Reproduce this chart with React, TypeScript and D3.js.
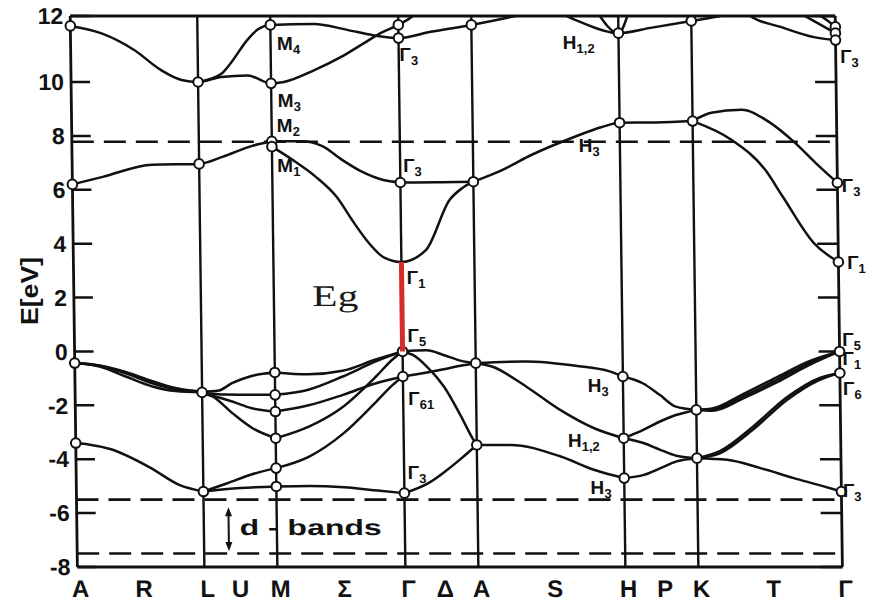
import React from 'react';
import * as d3 from 'd3';

type Pt = [number, number];

// Path coordinate s: integer values are the symmetry points A L M Γ A H K Γ
const symmetryIndex = [0, 1, 2, 3, 4, 5, 6, 7];
const pathLabels: [string, number][] = [
  ['A', 0], ['R', 0.5], ['L', 1], ['U', 1.45], ['M', 2], ['Σ', 2.5], ['Γ', 3], ['Δ', 3.5],
  ['A', 4], ['S', 4.5], ['H', 5], ['P', 5.5], ['K', 6], ['T', 6.5], ['Γ', 7],
];
const energyTicks = [12, 10, 8, 6, 4, 2, 0, -2, -4, -6, -8];
const dashedLevels = [7.78, -5.5, -7.5];

// Conduction bands (s, E in eV)
const conductionBands: Pt[][] = [
  [[0, 6.2], [0.24, 6.48], [0.63, 6.93], [1, 6.96], [1.32, 7.22], [1.73, 7.63], [2, 7.8]],
  [[2, 7.8], [2.23, 7.8], [2.39, 7.63], [2.55, 7.1], [2.7, 6.67], [2.86, 6.37], [3, 6.27]],
  [[3, 6.27], [3.5, 6.28], [4, 6.3]],
  [[2, 7.6], [2.16, 7.11], [2.34, 6.48], [2.5, 5.74], [2.63, 4.8], [2.74, 4.07], [2.87, 3.47], [3, 3.32],
    [3.34, 3.77], [3.67, 5.62], [3.85, 6.07], [4, 6.3]],
  [[4, 6.3], [4.2, 6.74], [4.4, 7.3], [4.69, 7.96], [4.88, 8.33], [5, 8.49], [5.5, 8.5], [6, 8.55]],
  [[6, 8.55], [6.13, 8.86], [6.34, 8.97], [6.53, 8.52], [6.71, 7.74], [6.85, 7.0], [7, 6.26]],
  [[6, 8.55], [6.27, 7.85], [6.5, 6.74], [6.62, 5.74], [6.83, 4.03], [7, 3.32]],
];

// Higher bands, running out of the frame above 12 eV
const upperBands: Pt[][] = [
  [[0, 11.7], [0.24, 11.48], [0.5, 10.97], [0.71, 10.36], [0.87, 10.06], [1, 10.0], [1.32, 10.15],
    [1.68, 10.2], [2, 9.95], [2.1, 10.0], [2.34, 10.36], [2.55, 10.76], [2.73, 11.18], [2.86, 11.48],
    [3, 11.73], [3.2, 12.0], [3.3, 12.2]],
  [[1, 10.0], [1.32, 10.25], [1.45, 10.57], [1.68, 11.27], [1.82, 11.58], [2, 11.73], [2.34, 11.76],
    [2.6, 11.58], [2.8, 11.42], [3, 11.33], [3.44, 11.52], [4, 11.73], [4.3, 12.0], [4.4, 12.1]],
  [[4.6, 12.1], [4.74, 11.82], [5, 11.48], [5.44, 11.64], [6, 11.85], [6.2, 12.0], [6.3, 12.1]],
  [[4.86, 12.1], [5, 11.48], [5.14, 12.1]],
  [[6.38, 12.1], [6.41, 12.0], [6.62, 11.67], [6.85, 11.36], [7, 11.27]],
  [[6.75, 12.1], [6.85, 11.85], [7, 11.48]],
  [[6.88, 12.05], [6.95, 11.85], [7, 11.67]],
];

// Valence bands
const valenceBands: Pt[][] = [
  // A – L
  [[0, -0.43], [0.195, -0.53], [0.4, -0.81], [0.61, -1.18], [0.79, -1.4], [1, -1.5]],
  [[0, -0.43], [0.195, -0.56], [0.4, -0.93], [0.61, -1.3], [0.79, -1.47], [1, -1.52]],
  [[0, -0.43], [0.195, -0.52], [0.4, -0.76], [0.61, -1.1], [0.79, -1.36], [1, -1.5]],
  [[0, -3.4], [0.1, -3.45], [0.27, -3.62], [0.58, -4.3], [0.81, -4.95], [1, -5.2]],
  // L – M
  [[1, -1.5], [1.23, -1.45], [1.41, -1.18], [1.68, -0.91], [2, -0.78]],
  [[1, -1.52], [1.32, -1.6], [1.68, -1.61], [2, -1.61]],
  [[1, -1.55], [1.09, -1.61], [1.41, -1.86], [1.68, -2.11], [2, -2.23]],
  [[1, -1.55], [1.14, -1.67], [1.41, -2.29], [1.68, -2.84], [2, -3.22]],
  [[1, -5.2], [1.32, -4.9], [1.68, -4.55], [2, -4.33]],
  [[1, -5.2], [1.5, -5.07], [2, -5.01]],
  // M – Γ
  [[2, -0.78], [2.26, -0.85], [2.53, -0.72], [2.79, -0.3], [3, 0]],
  [[2, -1.61], [2.26, -1.42], [2.53, -0.93], [2.79, -0.37], [3, 0]],
  [[2, -2.23], [2.26, -2.0], [2.53, -1.61], [2.79, -1.18], [3, -0.93]],
  [[2, -3.22], [2.26, -2.79], [2.53, -2.05], [2.79, -0.93], [2.92, -0.3], [3, 0]],
  [[2, -4.33], [2.26, -3.9], [2.53, -3.04], [2.79, -1.86], [2.92, -1.24], [3, -0.93]],
  [[2, -5.01], [2.26, -4.99], [2.53, -5.04], [2.79, -5.16], [3, -5.26]],
  // Γ – A
  [[3, 0], [3.33, 0.04], [3.56, -0.13], [3.79, -0.34], [4, -0.435]],
  [[3, 0], [3.14, -0.13], [3.33, -0.56], [3.56, -1.3], [3.79, -2.41], [3.93, -3.16], [4, -3.47]],
  [[3, -0.93], [3.33, -0.78], [3.56, -0.66], [3.79, -0.53], [4, -0.435]],
  [[3, -5.26], [3.33, -4.89], [3.56, -4.46], [3.79, -3.96], [4, -3.47]],
  // A – H
  [[4, -0.435], [4.34, -0.37], [4.68, -0.53], [4.91, -0.74], [5, -0.93]],
  [[4, -0.435], [4.11, -0.56], [4.34, -1.3], [4.57, -2.17], [4.8, -2.85], [5, -3.22]],
  [[4, -3.47], [4.23, -3.47], [4.57, -3.9], [4.8, -4.4], [5, -4.7]],
  // H – K
  [[5, -0.93], [5.27, -1.18], [5.5, -1.61], [5.72, -2.05], [6, -2.17]],
  [[5, -3.22], [5.27, -2.91], [5.5, -2.6], [5.72, -2.36], [6, -2.17]],
  [[5, -3.22], [5.27, -3.4], [5.5, -3.65], [5.72, -3.87], [6, -3.96]],
  [[5, -4.7], [5.27, -4.58], [5.5, -4.33], [5.72, -4.08], [6, -3.96]],
  // K – Γ
  [[6, -2.17], [6.11, -2.15], [6.32, -1.68], [6.56, -1.06], [6.79, -0.43], [7, 0]],
  [[6, -2.17], [6.11, -2.12], [6.32, -1.6], [6.56, -0.96], [6.79, -0.36], [7, 0]],
  [[6, -2.17], [6.11, -2.2], [6.32, -1.76], [6.56, -1.15], [6.79, -0.5], [7, 0]],
  [[6, -3.96], [6.16, -3.78], [6.39, -2.91], [6.63, -1.8], [6.86, -1.05], [7, -0.8]],
  [[6, -3.96], [6.16, -3.7], [6.39, -2.8], [6.63, -1.7], [6.86, -0.98], [7, -0.8]],
  [[6, -3.96], [6.21, -4.02], [6.44, -4.33], [6.67, -4.7], [6.86, -4.98], [7, -5.2]],
];

// Marked states at the symmetry points
const nodes: Pt[] = [
  [0, 11.7], [0, 6.2], [0, -0.43], [0, -3.4],
  [1, 10.0], [1, 6.96], [1, -1.52], [1, -5.2],
  [2, 11.73], [2, 9.95], [2, 7.8], [2, 7.6], [2, -0.78], [2, -1.61], [2, -2.23], [2, -3.22], [2, -4.33], [2, -5.01],
  [3, 11.73], [3, 11.33], [3, 6.27], [3, 0], [3, -0.93], [3, -5.26],
  [4, 11.73], [4, 6.3], [4, -0.435], [4, -3.47],
  [5, 11.48], [5, 8.49], [5, -0.93], [5, -3.22], [5, -4.7],
  [6, 11.85], [6, 8.55], [6, -2.17], [6, -3.96],
  [7, 11.67], [7, 11.48], [7, 11.27], [7, 6.26], [7, 3.32], [7, 0], [7, -0.8], [7, -5.2],
];

// Irreducible representation labels: [letter, subscript, s, E]
const stateLabels: [string, string, number, number][] = [
  ['M', '4', 2.05, 10.88], ['M', '3', 2.05, 8.96], ['M', '2', 2.04, 8.03], ['M', '1', 2.04, 6.55],
  ['Γ', '3', 3.01, 10.55], ['Γ', '3', 3.04, 6.55], ['Γ', '1', 3.07, 2.39], ['Γ', '5', 3.07, 0.24],
  ['Γ', '61', 3.07, -2.09], ['Γ', '3', 3.05, -4.85],
  ['H', '1,2', 4.62, 10.91], ['H', '3', 4.72, 7.29], ['H', '3', 4.76, -1.62], ['H', '1,2', 4.62, -3.66],
  ['H', '3', 4.77, -5.4],
  ['Γ', '3', 7.03, 10.48], ['Γ', '3', 7.03, 5.81], ['Γ', '1', 7.06, 2.95], ['Γ', '5', 7.02, 0.1],
  ['Γ', '1', 7.02, -0.61], ['Γ', '6', 7.02, -1.73], ['Γ', '3', 7.01, -5.52],
];

// Band gap at Γ: Γ1 (conduction minimum) down to Γ5 (valence maximum)
const gapEnds: Pt[] = [[3, 3.32], [3, 0]];
const gapLabel: Pt = [2.3, 1.69];
const dBandText: Pt = [1.49, -6.82];
const dBandArrow: Pt[] = [[1.34, -5.78], [1.34, -7.41]];

const W = 873;
const H = 601;
const FONT = "'Liberation Sans', Arial, Helvetica, sans-serif";

export default function App() {
  const x = d3.scaleLinear().domain(symmetryIndex).range([70, 197, 270, 398, 471, 618, 691, 835]);
  const y = d3.scaleLinear().domain([-8, 10, 12]).range([567, 82, 16]);
  const line = d3
    .line<Pt>()
    .x((d) => x(d[0]))
    .y((d) => y(d[1]))
    .curve(d3.curveMonotoneX);

  const x0 = x(0);
  const x1 = x(7);
  const yTop = y(12);
  const yBot = y(-8);
  const allBands = [...upperBands, ...conductionBands, ...valenceBands];

  const ax = x(dBandArrow[0][0]);
  const ay0 = y(dBandArrow[0][1]);
  const ay1 = y(dBandArrow[1][1]);

  return (
    <svg
      width={W}
      height={H}
      viewBox={`0 0 ${W} ${H}`}
      style={{ position: 'absolute', left: 0, top: 0, background: '#fff' }}
    >
      <defs>
        <clipPath id="plot-area">
          <rect x={x0} y={yTop} width={x1 - x0} height={yBot - yTop} />
        </clipPath>
      </defs>
      <rect width={W} height={H} fill="#fff" />

      <text
        transform="translate(38,291) rotate(-90)"
        textAnchor="middle"
        fontFamily={FONT}
        fontWeight="bold"
        fontSize={24}
        textLength={68}
        lengthAdjust="spacingAndGlyphs"
        fill="#111"
      >
        E[eV]
      </text>

      <g transform="skewX(0.745)">
        {/* frame and symmetry lines */}
        <line x1={x0} x2={x1} y1={yTop} y2={yTop} stroke="#111" strokeWidth={2.8} />
        <line x1={x0} x2={x1} y1={yBot} y2={yBot} stroke="#111" strokeWidth={2.8} />
        {symmetryIndex.map((s) => (
          <line
            key={`v${s}`}
            x1={x(s)}
            x2={x(s)}
            y1={yTop}
            y2={yBot}
            stroke="#111"
            strokeWidth={s === 0 || s === 7 ? 2.8 : 2.4}
          />
        ))}

        {/* energy ticks on both sides */}
        {energyTicks.map((e) => (
          <g key={`t${e}`}>
            <line x1={x0} x2={x0 + 19} y1={y(e)} y2={y(e)} stroke="#111" strokeWidth={2.5} />
            <line x1={x1 - 21} x2={x1} y1={y(e)} y2={y(e)} stroke="#111" strokeWidth={2.5} />
            <text
              x={x0 - 7}
              y={y(e)}
              dy="0.36em"
              textAnchor="end"
              fontFamily={FONT}
              fontWeight="bold"
              fontSize={23}
              fill="#111"
            >
              {e < 0 ? `-${Math.abs(e)}` : e}
            </text>
          </g>
        ))}

        {/* reference levels */}
        {dashedLevels.map((e) => (
          <line
            key={`d${e}`}
            x1={x0}
            x2={x1}
            y1={y(e)}
            y2={y(e)}
            stroke="#111"
            strokeWidth={2.6}
            strokeDasharray="22 10"
          />
        ))}

        {/* bands */}
        <g clipPath="url(#plot-area)">
          {allBands.map((b, i) => (
            <path key={`b${i}`} d={line(b) ?? ''} fill="none" stroke="#111" strokeWidth={2.5} />
          ))}
        </g>

        {nodes.map(([s, e], i) => (
          <circle key={`n${i}`} cx={x(s)} cy={y(e)} r={4.8} fill="#fff" stroke="#111" strokeWidth={2} />
        ))}

        {/* band gap */}
        <line
          x1={x(gapEnds[0][0])}
          x2={x(gapEnds[1][0])}
          y1={y(gapEnds[0][1])}
          y2={y(gapEnds[1][1])}
          stroke="#d42b2b"
          strokeWidth={5}
        />
        <text
          x={x(gapLabel[0])}
          y={y(gapLabel[1])}
          fontFamily="'Liberation Serif', 'Times New Roman', serif"
          fontSize={30}
          textLength={46}
          lengthAdjust="spacingAndGlyphs"
          fill="#1a1a1a"
        >
          Eg
        </text>

        {/* state labels */}
        {stateLabels.map(([b, sub, s, e], i) => (
          <text
            key={`l${i}`}
            x={x(s)}
            y={y(e) - 3}
            fontFamily={FONT}
            fontWeight="bold"
            fontSize={19}
            fill="#111"
          >
            {b}
            <tspan fontSize={13} dy={4}>
              {sub}
            </tspan>
          </text>
        ))}

        {/* d-band region */}
        <line x1={ax} x2={ax} y1={ay0 + 6} y2={ay1 - 6} stroke="#111" strokeWidth={2} />
        <path d={`M${ax},${ay0} l-3.5,9 l7,0 Z`} fill="#111" />
        <path d={`M${ax},${ay1} l-3.5,-9 l7,0 Z`} fill="#111" />
        <text
          x={x(dBandText[0])}
          y={y(dBandText[1])}
          fontFamily={FONT}
          fontWeight="bold"
          fontSize={22}
          textLength={142}
          lengthAdjust="spacingAndGlyphs"
          fill="#111"
        >
          d - bands
        </text>

        {/* path labels */}
        {pathLabels.map(([t, s], i) => (
          <text
            key={`p${i}`}
            x={x(s) + 3}
            y={597}
            textAnchor="middle"
            fontFamily={FONT}
            fontWeight="bold"
            fontSize={24}
            fill="#111"
          >
            {t}
          </text>
        ))}
      </g>
    </svg>
  );
}
